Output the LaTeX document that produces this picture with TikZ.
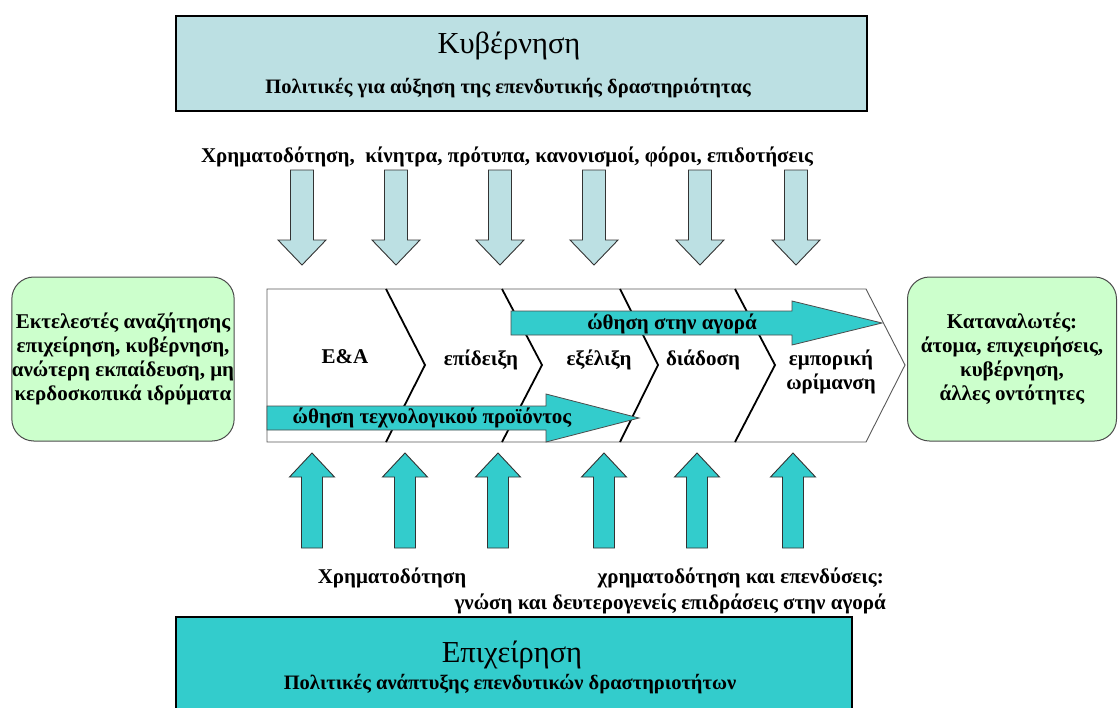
\documentclass[tikz,border=0pt]{standalone}
\usepackage{fontspec}
\setmainfont{Liberation Serif}
\begin{document}
\begin{tikzpicture}[x=1pt,y=-1pt,
  every node/.style={inner sep=0pt, align=center},
  lbl/.style={font=\bfseries\fontsize{21}{24}\selectfont},
  sublbl/.style={font=\bfseries\fontsize{20.5}{24}\selectfont},
  ttl/.style={font=\fontsize{30.5}{33}\selectfont},
  govbox/.style={draw=black, line width=1.2pt, fill=govblue},
  bizbox/.style={draw=black, line width=1.2pt, fill=teal},
  actor/.style={draw=black!70, line width=1pt, fill=mint, rounded corners=22pt},
  band/.style={draw=black!65, line width=0.9pt, fill=white},
  divider/.style={draw=black, line width=1.8pt},
  pusharrow/.style={draw=black!70, line width=0.8pt, fill=teal},
  dnarrow/.style={draw=black!80, line width=0.9pt, fill=govblue},
  uparrow/.style={draw=black!80, line width=0.9pt, fill=teal},
  dnpic/.pic={\path[dnarrow] (-11.5,0) -- (11.5,0) -- (11.5,70) -- (24,70) -- (0,95)
      -- (-24,70) -- (-11.5,70) -- cycle;},
  uppic/.pic={\path[uparrow] (0,0) -- (22.5,24) -- (10.5,24) -- (10.5,95) -- (-10.5,95)
      -- (-10.5,24) -- (-22.5,24) -- cycle;}
]
\definecolor{govblue}{HTML}{BCE0E3}
\definecolor{teal}{HTML}{33CCCC}
\definecolor{mint}{HTML}{CCFFCC}
\useasboundingbox (0,0) rectangle (1118,707);

% government box
\path[govbox] (176,16) rectangle (867,111);
\node[ttl] (gov) at (509,46) {Κυβέρνηση};
\node[sublbl] (govpol) at (508,88) {Πολιτικές για αύξηση της επενδυτικής δραστηριότητας};

% instruments of the state
\node[lbl] (instr) at (507,157) {Χρηματοδότηση,\ \ κίνητρα, πρότυπα, κανονισμοί, φόροι, επιδοτήσεις};
\foreach \x in {302,396,500,594,700,796}
  \pic at (\x,170) {dnpic};

% innovation stages band
\path[band] (267,289) -- (866,289) -- (905,365) -- (866,442) -- (267,442) -- cycle;
\foreach \a/\b in {386/425,502/542,620/658,735/775}
  \draw[divider] (\a,289) -- (\b,365) -- (\a,442);

\node[lbl] (rd)   at (345,357) {Ε\&Α};
\node[lbl] (demo) at (481,360) {επίδειξη};
\node[lbl] (dev)  at (599,360) {εξέλιξη};
\node[lbl] (diff) at (703,360) {διάδοση};
\node[lbl] (mat)  at (831,372) {εμπορική\\ωρίμανση};

% market pull
\path[pusharrow] (511,311) -- (792,311) -- (792,301) -- (882,323) -- (792,345)
   -- (792,335) -- (511,335) -- cycle;
\node[lbl] (pull) at (672,324) {ώθηση στην αγορά};

% technology push
\path[pusharrow] (267,406) -- (546,406) -- (546,394) -- (639,418) -- (546,442)
   -- (546,430) -- (267,430) -- cycle;
\node[lbl] (push) at (432,418) {ώθηση τεχνολογικού προϊόντος};

% actors
\node[actor, lbl, minimum width=221pt, minimum height=164pt] (res) at (123,359)
  {Εκτελεστές αναζήτησης\\επιχείρηση, κυβέρνηση,\\ανώτερη εκπαίδευση, μη\\κερδοσκοπικά ιδρύματα};
\node[actor, lbl, minimum width=209pt, minimum height=164pt] (cons) at (1012,359)
  {Καταναλωτές:\\άτομα, επιχειρήσεις,\\κυβέρνηση,\\άλλες οντότητες};

% business contributions
\foreach \x in {312,405,498,604,697,793}
  \pic at (\x,453) {uppic};
\node[lbl] (fund) at (392,578) {Χρηματοδότηση};
\node[lbl, anchor=east] (invest) at (884,578) {χρηματοδότηση και επενδύσεις:};
\node[lbl, anchor=east] (know) at (886,604) {γνώση και δευτερογενείς επιδράσεις στην αγορά};

% business box
\path[bizbox] (176,617) rectangle (852,712);
\node[ttl] (biz) at (512,655) {Επιχείρηση};
\node[sublbl] (bizpol) at (510,684) {Πολιτικές ανάπτυξης επενδυτικών δραστηριοτήτων};
\end{tikzpicture}
\end{document}
